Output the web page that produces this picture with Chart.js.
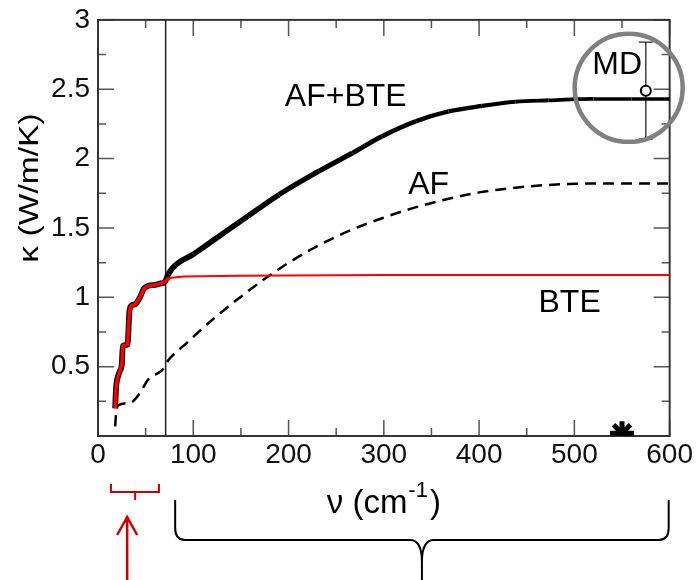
<!DOCTYPE html>
<html>
<head>
<meta charset="utf-8">
<script src="https://cdn.jsdelivr.net/npm/chart.js@4"></script>
<style>
  html, body { margin: 0; padding: 0; background: #fff; }
</style>
</head>
<body>
<canvas id="chart" width="698" height="580"></canvas>
<script>
// -> Daten
const nu_bte = [18, 19, 21, 23, 25, 26, 31, 33, 35, 39, 44, 48, 52, 60, 66, 70, 75, 90, 150, 300, 600];
const k_bte  = [0.20, 0.35, 0.43, 0.47, 0.52, 0.65, 0.66, 0.90, 0.94, 0.95, 1.00, 1.06, 1.08, 1.09, 1.10, 1.11, 1.14, 1.15, 1.155, 1.16, 1.16];

const nu_sum = [18, 19, 21, 23, 25, 26, 31, 33, 35, 39, 44, 48, 52, 60, 66, 70, 74, 81, 100, 125, 150, 190, 232, 267, 298, 334, 368, 403, 438, 473, 520, 560, 600];
const k_sum  = [0.20, 0.35, 0.43, 0.47, 0.52, 0.65, 0.66, 0.90, 0.94, 0.95, 1.00, 1.06, 1.08, 1.09, 1.10, 1.11, 1.17, 1.23, 1.31, 1.43, 1.55, 1.74, 1.91, 2.04, 2.16, 2.27, 2.34, 2.38, 2.41, 2.42, 2.43, 2.43, 2.43];

const nu_af = [18, 19, 21, 34, 44, 53, 68, 72, 93, 117, 151, 187, 225, 264, 298, 334, 368, 403, 438, 473, 520, 600];
const k_af  = [0.07, 0.16, 0.22, 0.24, 0.31, 0.41, 0.48, 0.53, 0.67, 0.82, 1.01, 1.19, 1.35, 1.48, 1.57, 1.65, 1.71, 1.76, 1.79, 1.81, 1.82, 1.82];

const nu_cut = [71, 71];
const k_cut  = [0, 3];

const nu_md  = [575];
const k_md   = [2.49];
const err_md = [0.35];

const nu_star = [550];
const k_star  = [0.02];

const xTickLabels = [0, 100, 200, 300, 400, 500, 600];
const yTickLabels = [0.5, 1, 1.5, 2, 2.5, 3];

// -> Beschriftungen im Diagramm
const notes = [
  { text: "AF+BTE", x: 260, y: 2.44 },
  { text: "AF", x: 347, y: 1.81 },
  { text: "BTE", x: 495, y: 0.96 },
  { text: "MD", x: 545, y: 2.67 }
];

const FONT = '"Liberation Sans", Arial, Helvetica, sans-serif';

function toPoints(xs, ys) {
  return xs.map((v, i) => ({ x: v, y: ys[i] }));
}

// -> Rahmen mit Ticks nach innen, Fehlerbalken
const framePlugin = {
  id: 'frame',
  beforeDatasetsDraw(chart) {
    const { ctx, chartArea: a, scales: { x, y } } = chart;
    ctx.save();
    ctx.strokeStyle = '#555';
    ctx.lineWidth = 1.5;
    ctx.beginPath();
    for (let v = 0; v <= 600; v += 50) {
      const px = x.getPixelForValue(v);
      const len = v % 100 === 0 ? 16 : 8;
      ctx.moveTo(px, a.bottom); ctx.lineTo(px, a.bottom - len);
      ctx.moveTo(px, a.top); ctx.lineTo(px, a.top + len);
    }
    for (let v = 0; v <= 3; v += 0.25) {
      const py = y.getPixelForValue(v);
      const len = v % 0.5 === 0 ? 16 : 8;
      ctx.moveTo(a.left, py); ctx.lineTo(a.left + len, py);
      ctx.moveTo(a.right, py); ctx.lineTo(a.right - len, py);
    }
    ctx.stroke();

    ctx.strokeStyle = '#333';
    ctx.lineWidth = 2;
    ctx.strokeRect(a.left, a.top, a.right - a.left, a.bottom - a.top);

    // Fehlerbalken MD
    ctx.strokeStyle = '#222';
    ctx.lineWidth = 1.3;
    nu_md.forEach((n, i) => {
      const px = x.getPixelForValue(n);
      const top = y.getPixelForValue(k_md[i] + err_md[i]);
      const bot = y.getPixelForValue(k_md[i] - err_md[i]);
      ctx.beginPath();
      ctx.moveTo(px, top); ctx.lineTo(px, bot);
      ctx.moveTo(px - 7, top); ctx.lineTo(px + 7, top);
      ctx.moveTo(px - 7, bot); ctx.lineTo(px + 7, bot);
      ctx.stroke();
    });
    ctx.restore();
  },
  afterDraw(chart) {
    const { ctx, chartArea: a, scales: { x, y } } = chart;
    ctx.save();
    ctx.fillStyle = '#000';
    ctx.textAlign = 'center';
    ctx.textBaseline = 'middle';
    ctx.font = '32px ' + FONT;
    notes.forEach(n => {
      ctx.fillText(n.text, x.getPixelForValue(n.x), y.getPixelForValue(n.y));
    });

    // grauer Kreis um MD
    ctx.strokeStyle = '#808080';
    ctx.lineWidth = 4.5;
    ctx.beginPath();
    ctx.arc(x.getPixelForValue(557), y.getPixelForValue(2.51), 54, 0, Math.PI * 2);
    ctx.stroke();

    // y-Achsentitel
    ctx.save();
    ctx.translate(30, 188);
    ctx.rotate(-Math.PI / 2);
    ctx.scale(1.2, 1);
    ctx.font = '28px ' + FONT;
    ctx.fillText("κ (W/m/K)", 0, 0);
    ctx.restore();

    // x-Achsentitel mit Hochzahl
    ctx.textAlign = 'left';
    ctx.textBaseline = 'alphabetic';
    const big = '33px ' + FONT;
    const small = '22px ' + FONT;
    ctx.font = big;
    const w1 = ctx.measureText("ν (cm").width;
    const w3 = ctx.measureText(")").width;
    ctx.font = small;
    const w2 = ctx.measureText("-1").width + 3;
    const cx = (a.left + a.right) / 2;
    let sx = cx - (w1 + w2 + w3) / 2;
    const base = a.bottom + 77;
    ctx.font = big;
    ctx.fillText("ν (cm", sx, base);
    ctx.font = small;
    ctx.fillText("-1", sx + w1 + 1, base - 16);
    ctx.font = big;
    ctx.fillText(")", sx + w1 + w2, base);

    // rote Klammer + Pfeil
    const b = a.bottom;
    ctx.strokeStyle = '#cc0000';
    ctx.lineWidth = 2;
    const r1 = x.getPixelForValue(13.6), r2 = x.getPixelForValue(64), rc = x.getPixelForValue(39);
    ctx.beginPath();
    ctx.moveTo(r1, b + 48); ctx.lineTo(r1, b + 56); ctx.lineTo(r2, b + 56); ctx.lineTo(r2, b + 48);
    ctx.moveTo(rc, b + 56); ctx.lineTo(rc, b + 64);
    ctx.stroke();
    const ax = x.getPixelForValue(30.6);
    ctx.lineWidth = 2.5;
    ctx.beginPath();
    ctx.moveTo(ax, 580); ctx.lineTo(ax, b + 82);
    ctx.moveTo(ax - 10, b + 99); ctx.lineTo(ax, b + 81); ctx.lineTo(ax + 10, b + 99);
    ctx.stroke();

    // schwarze geschweifte Klammer
    const l = x.getPixelForValue(81), r = x.getPixelForValue(599), m = x.getPixelForValue(340);
    const yTop = b + 64, yH = b + 104;
    ctx.strokeStyle = '#000';
    ctx.lineWidth = 2;
    ctx.beginPath();
    ctx.moveTo(l, yTop);
    ctx.lineTo(l, yH - 12);
    ctx.quadraticCurveTo(l, yH, l + 10, yH);
    ctx.lineTo(m - 12, yH);
    ctx.quadraticCurveTo(m, yH, m, yH + 22);
    ctx.lineTo(m, 580);
    ctx.moveTo(m, yH + 22);
    ctx.quadraticCurveTo(m, yH, m + 12, yH);
    ctx.lineTo(r - 10, yH);
    ctx.quadraticCurveTo(r, yH, r, yH - 12);
    ctx.lineTo(r, yTop);
    ctx.stroke();
    ctx.restore();
  }
};

// -> Chart
const canvas = document.querySelector("#chart");

const chart = new Chart(canvas, {
  type: 'line',
  data: {
    datasets: [
      {
        label: 'MD',
        data: toPoints(nu_md, k_md),
        showLine: false,
        pointRadius: 5,
        pointBorderWidth: 2,
        pointBorderColor: '#000',
        pointBackgroundColor: '#fff'
      },
      {
        label: 'BTE',
        data: toPoints(nu_bte, k_bte),
        borderColor: 'rgb(255, 0, 0)',
        borderWidth: 2,
        pointRadius: 0,
        segment: {
          borderWidth: ctx => ctx.p0.parsed.x < 71 ? 3.5 : 2
        }
      },
      {
        label: 'AF+BTE',
        data: toPoints(nu_sum, k_sum),
        borderColor: '#000',
        borderWidth: 5,
        pointRadius: 0,
        cubicInterpolationMode: 'monotone',
        segment: {
          // Linie wird nach rechts etwas duenner
          borderWidth: ctx => Math.max(3.5, 5.8 - Math.max(0, ctx.p0.parsed.x - 70) / 200)
        }
      },
      {
        label: 'AF',
        data: toPoints(nu_af, k_af),
        borderColor: '#000',
        borderWidth: 2.5,
        borderDash: [11, 7],
        pointRadius: 0,
        cubicInterpolationMode: 'monotone'
      },
      {
        label: 'cut',
        data: toPoints(nu_cut, k_cut),
        borderColor: '#222',
        borderWidth: 1.5,
        pointRadius: 0
      },
      {
        label: 'star',
        data: toPoints(nu_star, k_star),
        showLine: false,
        pointStyle: 'star',
        pointRadius: 12,
        pointBorderWidth: 5,
        pointBorderColor: '#000',
        pointBackgroundColor: '#000'
      }
    ]
  },
  options: {
    responsive: false,
    animation: false,
    devicePixelRatio: 1,
    layout: {
      padding: { top: 15, right: 26, left: 0, bottom: 0 }
    },
    plugins: {
      legend: { display: false },
      tooltip: { enabled: false }
    },
    scales: {
      x: {
        type: 'linear',
        min: 0,
        max: 600,
        afterBuildTicks: axis => { axis.ticks = xTickLabels.map(v => ({ value: v })); },
        afterFit: axis => { axis.height = 144; },
        grid: { display: false, drawTicks: false },
        border: { display: false },
        ticks: {
          color: '#111',
          padding: 5,
          maxRotation: 0,
          font: { size: 28, family: FONT, lineHeight: 1 },
          callback: v => String(v)
        }
      },
      y: {
        type: 'linear',
        min: 0,
        max: 3,
        afterBuildTicks: axis => { axis.ticks = yTickLabels.map(v => ({ value: v })); },
        afterFit: axis => { axis.width = 98; },
        grid: { display: false, drawTicks: false },
        border: { display: false },
        ticks: {
          color: '#111',
          padding: 8,
          font: { size: 28, family: FONT, lineHeight: 0.85 },
          callback: v => String(v)
        }
      }
    }
  },
  plugins: [framePlugin]
});
</script>
</body>
</html>
